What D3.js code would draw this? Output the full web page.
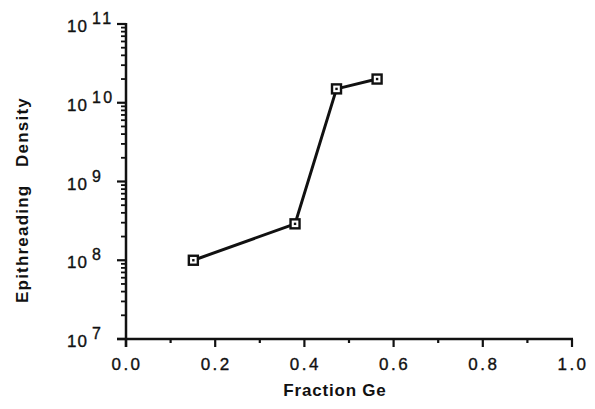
<!DOCTYPE html>
<html><head><meta charset="utf-8">
<script src="https://cdn.jsdelivr.net/npm/d3@7"></script>
<style>body{margin:0;background:#fff}text{font-family:"Liberation Sans",Arial,Helvetica,sans-serif;fill:#111}</style>
</head><body><svg id="c" width="595" height="409"></svg>
<script>
const fractionGe = [0.151, 0.379, 0.472, 0.563];
const density = [1.0e8, 2.9e8, 1.5e10, 2.0e10];
const xTicks = [0.0, 0.2, 0.4, 0.6, 0.8, 1.0];
const yExponents = [7, 8, 9, 10, 11];

const svg = d3.select("#c");
const x = d3.scaleLinear().domain([0, 1]).range([126, 572]);
const y = d3.scaleLog().domain([1e7, 1e11]).range([339, 24]);
const ink = "#111";

// x axis
const xa = svg.append("g");
xa.append("line").attr("x1", 117).attr("x2", x(1) + 1).attr("y1", y(1e7)).attr("y2", y(1e7)).attr("stroke", ink).attr("stroke-width", 2.5);
d3.range(0, 11).forEach(i => {
  const v = i / 10, major = i % 2 === 0;
  xa.append("line").attr("x1", x(v)).attr("x2", x(v)).attr("y1", y(1e7)).attr("y2", y(1e7) + (major ? 8 : 4)).attr("stroke", ink).attr("stroke-width", 2.2);
});
xTicks.forEach(v => {
  xa.append("text").attr("x", x(v) + 1).attr("y", 370).attr("text-anchor", "middle").attr("font-size", 17).attr("letter-spacing", 2.5)
    .attr("stroke", ink).attr("stroke-width", 0.35).text(v.toFixed(1));
});

// y axis
const ya = svg.append("g");
ya.append("line").attr("x1", x(0)).attr("x2", x(0)).attr("y1", y(1e7) + 8).attr("y2", y(1e11) - 1).attr("stroke", ink).attr("stroke-width", 2.5);
for (let e = 7; e <= 10; e++) {
  for (let m = 2; m <= 9; m++) {
    const v = m * Math.pow(10, e);
    ya.append("line").attr("x1", x(0) - 5).attr("x2", x(0)).attr("y1", y(v)).attr("y2", y(v)).attr("stroke", ink).attr("stroke-width", 1.8);
  }
}
yExponents.forEach(e => {
  const v = Math.pow(10, e);
  ya.append("line").attr("x1", x(0) - 9).attr("x2", x(0)).attr("y1", y(v)).attr("y2", y(v)).attr("stroke", ink).attr("stroke-width", 2.2);
  const t = ya.append("text").attr("x", 67).attr("y", y(v) + 8).attr("font-size", 17).attr("letter-spacing", 1)
    .attr("stroke", ink).attr("stroke-width", 0.35);
  t.append("tspan").text("10");
  t.append("tspan").attr("dx", 4).attr("dy", -8).attr("font-size", 16).attr("letter-spacing", 2.5).text(String(e));
});

// line + markers
const line = d3.line().x((d, i) => x(fractionGe[i])).y(d => y(d));
svg.append("path").datum(density).attr("d", line).attr("fill", "none").attr("stroke", ink).attr("stroke-width", 3);
const mk = svg.append("g").selectAll("g").data(density).join("g")
  .attr("transform", (d, i) => `translate(${x(fractionGe[i])},${y(d)})`);
mk.append("rect").attr("x", -4.5).attr("y", -4.5).attr("width", 9).attr("height", 9).attr("fill", "#fff").attr("stroke", ink).attr("stroke-width", 2.4);
mk.append("rect").attr("x", -1.2).attr("y", -1.2).attr("width", 2.4).attr("height", 2.4).attr("fill", ink);

// titles
svg.append("text").attr("x", 335).attr("y", 396).attr("text-anchor", "middle").attr("font-size", 17).attr("font-weight", "bold").attr("letter-spacing", 0.8).text("Fraction Ge");
svg.append("text").attr("transform", "translate(28,200) rotate(-90)").attr("text-anchor", "middle").attr("font-size", 17).attr("font-weight", "bold").attr("letter-spacing", 1.2).style("white-space", "pre").text("Epithreading   Density");
</script></body></html>
